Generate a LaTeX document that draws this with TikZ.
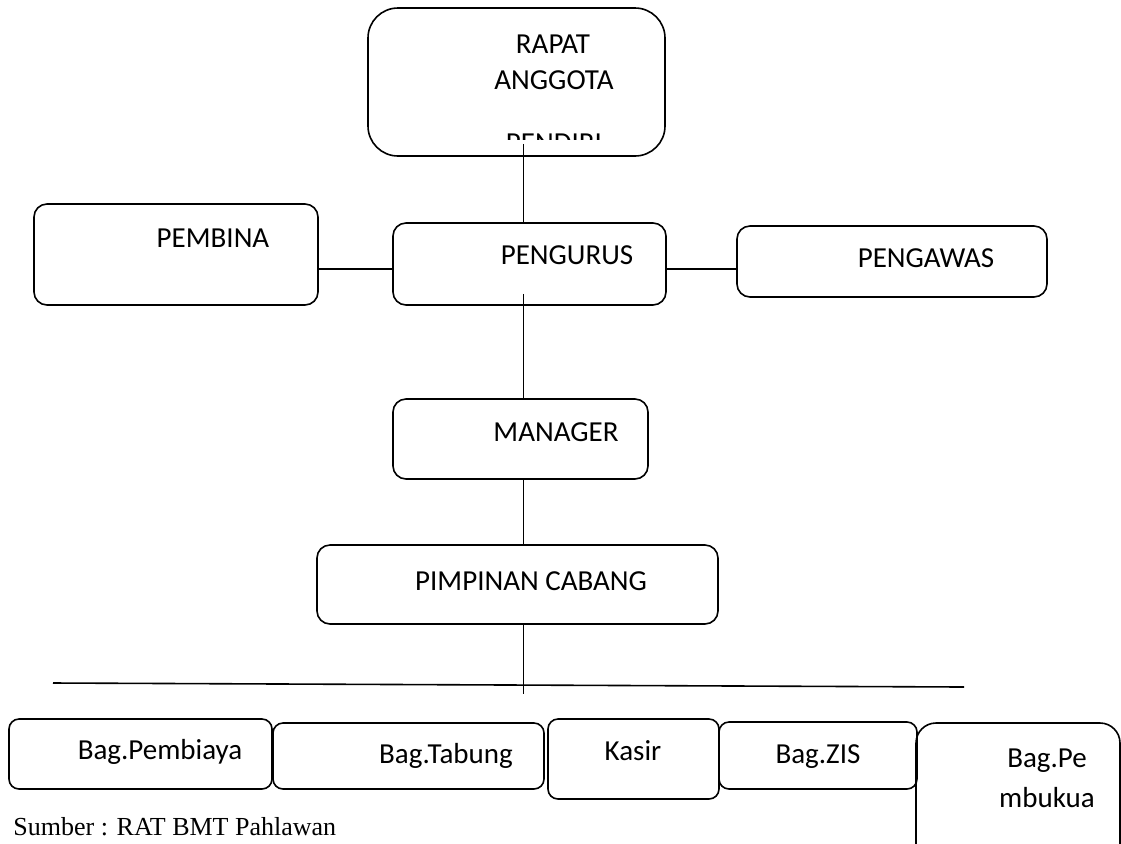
\documentclass[tikz,border=0pt]{standalone}
\usepackage{fontspec}
\setmainfont{Carlito}
\newfontfamily\srcfont{Liberation Serif}
\usetikzlibrary{calc}

\begin{document}
\begin{tikzpicture}[x=0.5pt, y=-0.5pt,
    every node/.style={font=\fontsize{14.5}{18}\selectfont},
    box/.style={draw, line width=0.8pt, rounded corners=6.5pt, inner sep=0pt},
    lbl/.style={anchor=base, inner sep=0pt},
    link/.style={line width=0.8pt}]
              \clip (0,0) rectangle (1121,843);

              \node[box, rounded corners=15pt, minimum width=148.5pt, minimum height=74pt] (rapat) at (516.5,82) {};
              \node[box, minimum width=142pt, minimum height=50.5pt] (pembina) at (176,254.5) {};
              \node[box, minimum width=136.5pt, minimum height=41pt] (pengurus) at (529.5,264) {};
              \node[box, minimum width=155pt, minimum height=35.5pt] (pengawas) at (892,261.5) {};
              \node[box, minimum width=127.5pt, minimum height=40pt] (manager) at (520.5,439) {};
              \node[box, minimum width=200.5pt, minimum height=39.5pt] (pimpinan) at (517.5,584.5) {};

              \node[box, rounded corners=5pt, minimum width=131.5pt, minimum height=35pt] (pembiaya) at (140.5,754) {};
              \node[box, rounded corners=5pt, minimum width=135.5pt, minimum height=33pt] (tabung) at (408.5,756) {};
              \node[box, rounded corners=5pt, minimum width=85.5pt, minimum height=40pt] (kasir) at (633.5,759) {};
              \node[box, rounded corners=5pt, minimum width=99pt, minimum height=33.5pt] (zis) at (818,755.5) {};
              \node[box, rounded corners=10pt, minimum width=102pt, minimum height=73.5pt] (pembukuan) at (1018,796.5) {};

              % texts
              \node[lbl] (rapat-a) at (553,53) {RAPAT};
              \node[lbl] (rapat-b) at (554,89) {ANGGOTA};
              \begin{scope}
                \clip (368,8) rectangle (665,139);
                \node[lbl] (rapat-c) at (554,152) {PENDIRI};
              \end{scope}
              \node[lbl] (pembina-t) at (213,247) {PEMBINA};
              \node[lbl] (pengurus-t) at (567,264) {PENGURUS};
              \node[lbl] (pengawas-t) at (926,267) {PENGAWAS};
              \node[lbl] (manager-t) at (556,441) {MANAGER};
              \node[lbl] (pimpinan-t) at (531,590) {PIMPINAN CABANG};
              \node[lbl] (pembiaya-t) at (160,759) {Bag.Pembiaya};
              \node[lbl] (tabung-t) at (446,763) {Bag.Tabung};
              \node[lbl] (kasir-t) at (633,760) {Kasir};
              \node[lbl] (zis-t) at (818,763) {Bag.ZIS};
              \node[lbl] (pembukuan-a) at (1047,767) {Bag.Pe};
              \node[lbl] (pembukuan-b) at (1047,807) {mbukua};
              \node[lbl, anchor=base west, font=\srcfont\fontsize{13}{16}\selectfont] (sumber) at (13,835) {Sumber : RAT BMT Pahlawan};

              % connectors
              \coordinate (trunk) at (523.5,0);
              \coordinate (side) at (0,269);
              \coordinate (busL) at (53,683);
              \coordinate (busR) at (964,687);
              \coordinate (busT) at (523.5,694);

              \draw[link] ($(rapat.south -| trunk)+(0,-13)$) -- (trunk |- pengurus.north);
              \draw[link] (pembina.east |- side) -- (pengurus.west |- side);
              \draw[link] (pengurus.east |- side) -- (pengawas.west |- side);
              \draw[link] ($(pengurus.south -| trunk)+(0,-12)$) -- (trunk |- manager.north);
              \draw[link] (manager.south -| trunk) -- (trunk |- pimpinan.north);
              \draw[link] (pimpinan.south -| trunk) -- (busT);
              \draw[link] (busL) -- (busR);
            \end{tikzpicture}
\end{document}
